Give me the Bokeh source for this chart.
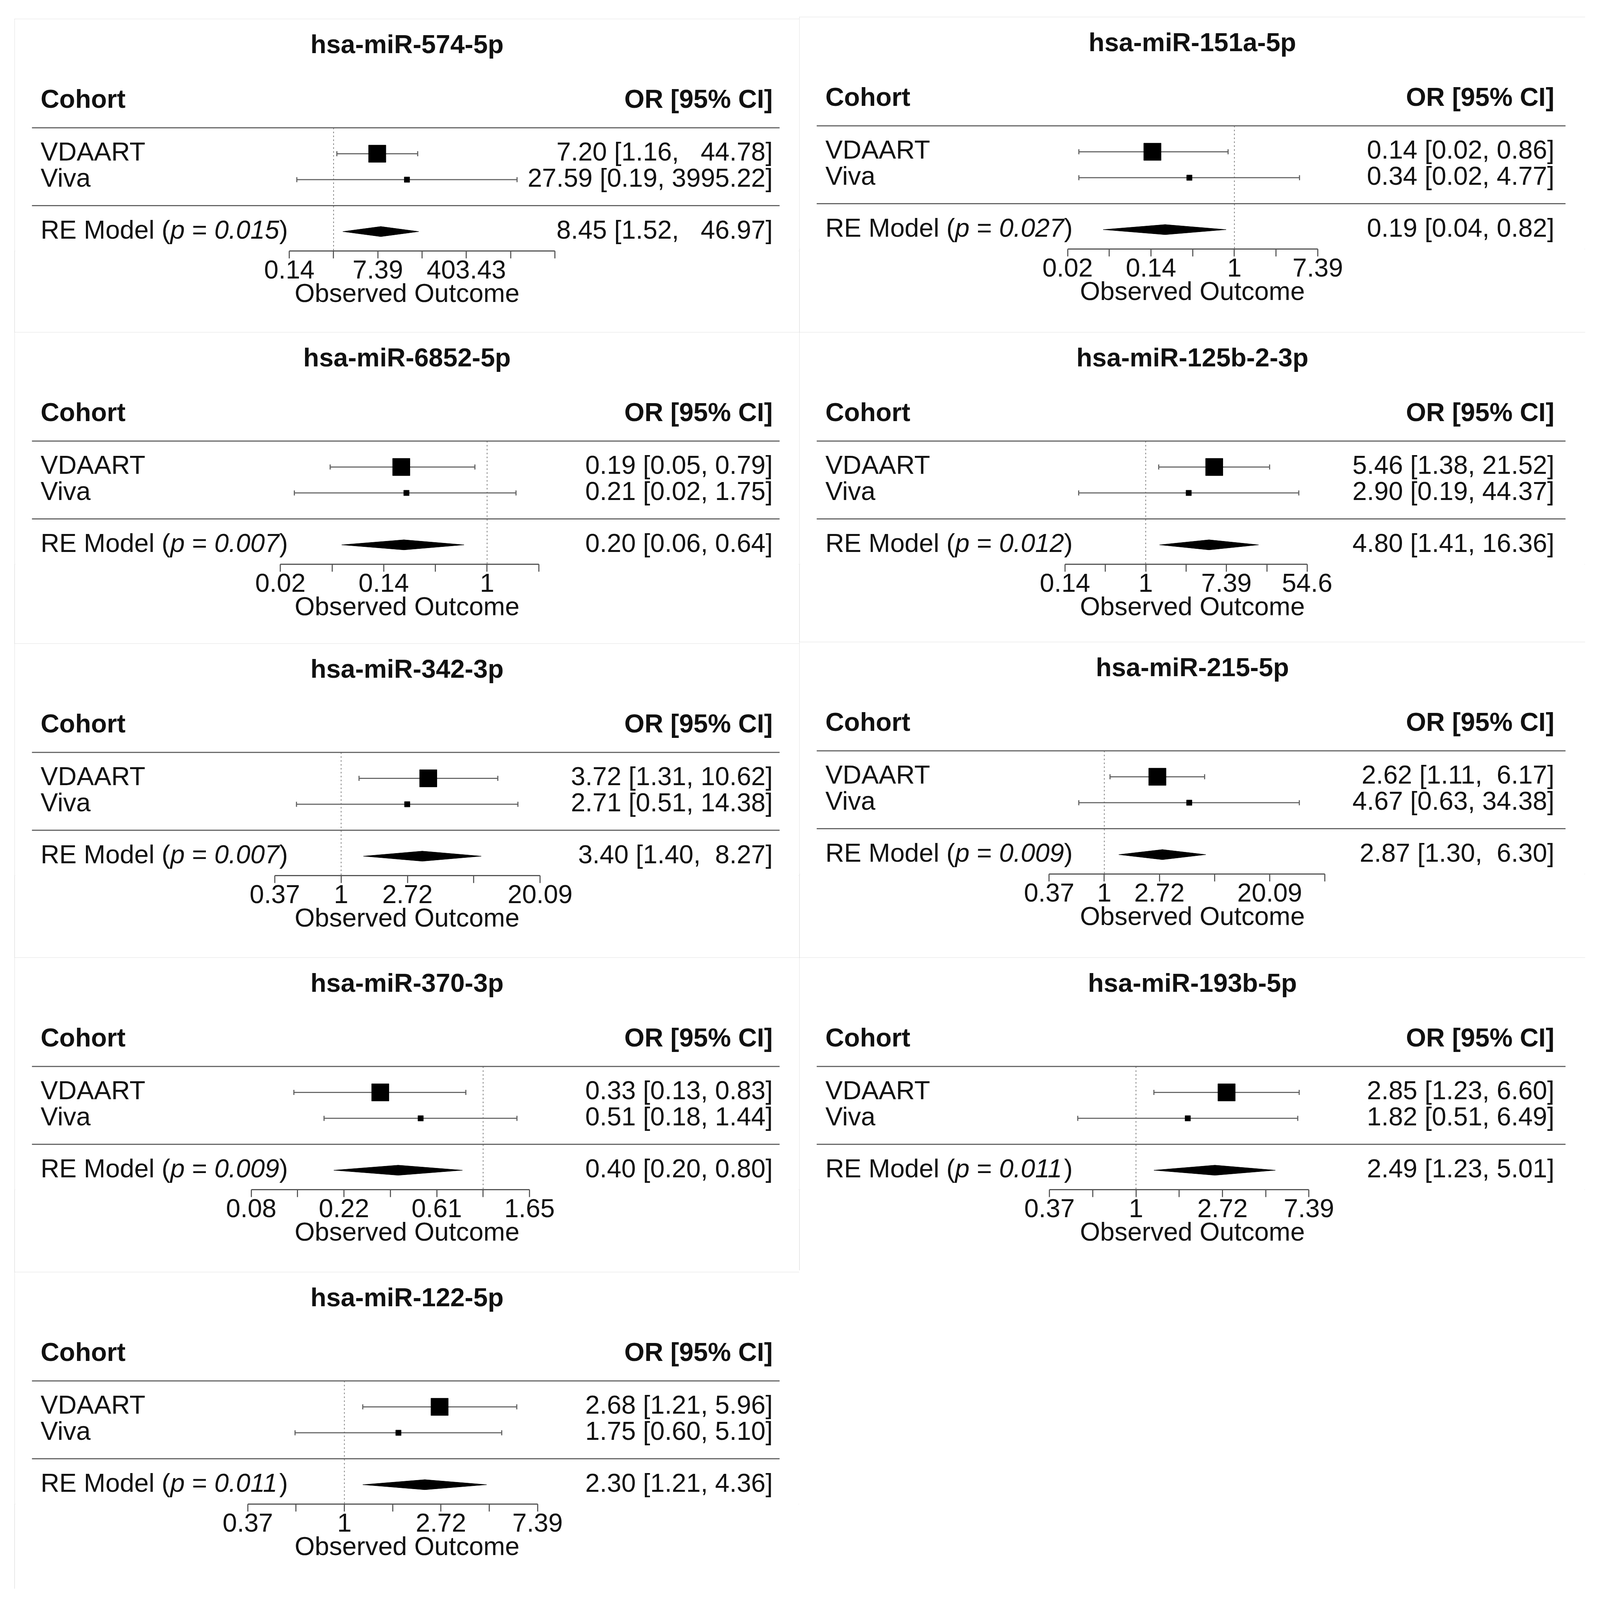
import re
import math
from bokeh.plotting import figure
from bokeh.models import Range1d, FixedTicker, ColumnDataSource, Spacer
from bokeh.layouts import column, row
from bokeh.core.properties import value, field
from bokeh.embed import file_html
from bokeh.resources import INLINE

# ---------------- data ----------------
TITLES = ["hsa-miR-574-5p", "hsa-miR-151a-5p", "hsa-miR-6852-5p", "hsa-miR-125b-2-3p",
          "hsa-miR-342-3p", "hsa-miR-215-5p", "hsa-miR-370-3p", "hsa-miR-193b-5p",
          "hsa-miR-122-5p"]
COHORTS = ["VDAART", "Viva"]
SUMMARY_LABEL = "RE Model"
HEADER_LEFT = "Cohort"
HEADER_RIGHT = "OR [95% CI]"
AXIS_TITLE = "Observed Outcome"
REF_OR = 1.0

VDAART_OR = [7.20, 0.14, 0.19, 5.46, 3.72, 2.62, 0.33, 2.85, 2.68]
VDAART_LO = [1.16, 0.024, 0.048, 1.38, 1.31, 1.11, 0.13, 1.23, 1.21]
VDAART_HI = [44.78, 0.86, 0.79, 21.52, 10.62, 6.17, 0.83, 6.60, 5.96]
VIVA_OR = [27.59, 0.34, 0.21, 2.90, 2.71, 4.67, 0.51, 1.82, 1.75]
VIVA_LO = [0.19, 0.024, 0.024, 0.19, 0.51, 0.63, 0.18, 0.51, 0.60]
VIVA_HI = [3995.22, 4.77, 1.75, 44.37, 14.38, 34.38, 1.44, 6.49, 5.10]
RE_OR = [8.45, 0.19, 0.20, 4.80, 3.40, 2.87, 0.40, 2.49, 2.30]
RE_LO = [1.52, 0.043, 0.06, 1.41, 1.40, 1.30, 0.20, 1.23, 1.21]
RE_HI = [46.97, 0.82, 0.64, 16.36, 8.27, 6.30, 0.80, 5.01, 4.36]
RE_P = ["0.015", "0.027", "0.007", "0.012", "0.007", "0.009", "0.009", "0.011", "0.011"]

# axis ticks on the log-OR scale and their labels (OR scale)
TICKS = [
    [-2, 0, 2, 4, 6, 8, 10],
    [-4, -3, -2, -1, 0, 1, 2],
    [-4, -3, -2, -1, 0, 1],
    [-2, -1, 0, 1, 2, 3, 4],
    [-1, 0, 1, 2, 3],
    [-1, 0, 1, 2, 3, 4],
    [-2.5, -2, -1.5, -1, -0.5, 0, 0.5],
    [-1, -0.5, 0, 0.5, 1, 1.5, 2],
    [-1, -0.5, 0, 0.5, 1, 1.5, 2],
]
TICK_LABELS = [
    ["0.14", "", "7.39", "", "403.43", "", ""],
    ["0.02", "", "0.14", "", "1", "", "7.39"],
    ["0.02", "", "0.14", "", "1", ""],
    ["0.14", "", "1", "", "7.39", "", "54.6"],
    ["0.37", "1", "2.72", "", "20.09"],
    ["0.37", "1", "2.72", "", "20.09", ""],
    ["0.08", "", "0.22", "", "0.61", "", "1.65"],
    ["0.37", "", "1", "", "2.72", "", "7.39"],
    ["0.37", "", "1", "", "2.72", "", "7.39"],
]

# ---------------- layout / style (reference pixels, scaled by S) ----------------
S = 4096.0 / 4440.0      # page px per reference px
MARGIN = 8

FONT = "Liberation Sans"
FONT_PX = 72 * S
TXT = "#111111"
SEP_COLOR = "#5a5a5a"
CI_COLOR = "#606060"
AX_COLOR = "#555555"
BORDER = "#c6c6c6"

AXIS_ORIGIN = [885, 1207, 1311, 961, 906, 846, 1300, 934, 915]   # ref px from panel left
PX_PER_UNIT = [61.4, 115.7, 143.4, 112.0, 184.0, 153.0, 257.4, 240.0, 268.0]

X_LEFT, X_MID, X_RIGHT = 49, 2226, 4408
LEFT_TOPS = [61, 930, 1794, 2666, 3538, 4417]
RIGHT_TOPS = [55, 930, 1790, 2666, 3534]

Y_UNIT = 72.0          # ref px per row
TITLE_FROM_TOP = 68
Y0_FROM_TITLE = 450
AXIS_FROM_TITLE = 576
TEXT_LEFT_PX = 72
TEXT_RIGHT_PX = {"left": 74, "right": 86}
LINE_LEFT_PX = 48
LINE_RIGHT_PX = 55
TEXT_SHIFT = 23.0 / Y_UNIT          # correction of the rendered text baseline
BASE_DY = 17.5 / Y_UNIT - TEXT_SHIFT
SQ_BIG, SQ_SMALL = 48, 15
CAP_PX = 7
DIAMOND_HALF_PX = 14

ADV = {'R': 722, 'E': 667, ' ': 278, 'M': 833, 'o': 556, 'd': 556, 'e': 556, 'l': 222,
       '(': 333, ')': 333, '=': 584, '.': 278, 'p': 556}
for _d in "0123456789":
    ADV[_d] = 556


def adv(s):
    return sum(ADV[c] for c in s) * FONT_PX / 1000.0


def keep_spaces(s):
    return re.sub(r" ( +)", lambda m: " " + "\u00a0" * len(m.group(1)), s)


def f2(v):
    return f"{v:.2f}"


FRAME_H = round((TITLE_FROM_TOP + AXIS_FROM_TITLE) * S)


def make_panel(i, W, H, side):
    org = AXIS_ORIGIN[i] * S
    ppu = PX_PER_UNIT[i] * S
    x0, x1 = -org / ppu, (W - org) / ppu
    y_top = (Y0_FROM_TITLE + TITLE_FROM_TOP) / Y_UNIT
    y_bot = y_top - FRAME_H / (Y_UNIT * S)
    p = figure(width=W, height=H, x_range=Range1d(x0, x1), y_range=Range1d(y_bot, y_top),
               output_backend="svg", toolbar_location=None, tools="",
               y_axis_location=None, min_border_left=0, min_border_right=0,
               min_border_top=0, min_border_bottom=H - FRAME_H,
               styles={"outline": f"3px solid {BORDER}", "outline-offset": "-3px"})
    p.grid.visible = False
    p.outline_line_color = None
    p.background_fill_color = "white"
    p.border_fill_color = "white"

    ax = p.xaxis[0]
    ax.ticker = FixedTicker(ticks=TICKS[i])
    ax.major_label_overrides = {float(t): lab for t, lab in zip(TICKS[i], TICK_LABELS[i])}
    ax.bounds = (min(TICKS[i]), max(TICKS[i]))
    ax.minor_tick_line_color = None
    ax.major_tick_in = 0
    ax.major_tick_out = round(21 * S)
    ax.axis_line_color = AX_COLOR
    ax.axis_line_width = 3 * S
    ax.major_tick_line_color = AX_COLOR
    ax.major_tick_line_width = 3 * S
    ax.major_label_text_font = FONT
    ax.major_label_text_font_size = f"{FONT_PX:.1f}px"
    ax.major_label_text_color = TXT
    ax.major_label_standoff = 5
    ax.axis_label = AXIS_TITLE
    ax.axis_label_text_font = FONT
    ax.axis_label_text_font_size = f"{FONT_PX:.1f}px"
    ax.axis_label_text_font_style = "normal"
    ax.axis_label_text_color = TXT
    ax.axis_label_standoff = -3

    ref = math.log(REF_OR)
    p.segment(x0=[ref], y0=[3], x1=[ref], y1=[y_bot], line_color="#7a7a7a",
              line_width=2 * S, line_dash="4 6")
    lx0, lx1 = x0 + LINE_LEFT_PX * S / ppu, x1 - LINE_RIGHT_PX * S / ppu
    p.segment(x0=[lx0, lx0], y0=[3, 0], x1=[lx1, lx1], y1=[3, 0],
              line_color=SEP_COLOR, line_width=3 * S)

    est = [VDAART_OR[i], VIVA_OR[i]]
    lo = [VDAART_LO[i], VIVA_LO[i]]
    hi = [VDAART_HI[i], VIVA_HI[i]]
    ys = [2, 1]
    le = [math.log(v) for v in est]
    ll = [math.log(v) for v in lo]
    lh = [math.log(v) for v in hi]
    p.segment(x0=ll, y0=ys, x1=lh, y1=ys, line_color=CI_COLOR, line_width=3 * S)
    cap = CAP_PX / Y_UNIT
    p.segment(x0=ll + lh, y0=[y - cap for y in ys] * 2, x1=ll + lh,
              y1=[y + cap for y in ys] * 2, line_color=CI_COLOR, line_width=3 * S)
    p.scatter(x=le, y=ys, size=[SQ_BIG * S, SQ_SMALL * S], marker="square",
              fill_color="black", line_color="black")

    h = DIAMOND_HALF_PX / Y_UNIT
    re_e, re_l, re_h = math.log(RE_OR[i]), math.log(RE_LO[i]), math.log(RE_HI[i])
    p.patch(x=[re_l, re_e, re_h, re_e], y=[-1, -1 + h, -1, -1 - h],
            fill_color="black", line_color="black", line_width=1)

    common = dict(text_font=value(FONT), text_font_size=value(f"{FONT_PX:.1f}px"),
                  text_color=TXT, text_baseline="alphabetic")
    tl, tr = TEXT_LEFT_PX * S, TEXT_RIGHT_PX[side] * S
    p.text(x=[(x0 + x1) / 2], y=[(Y0_FROM_TITLE - 25) / Y_UNIT + TEXT_SHIFT],
           text=[TITLES[i]], text_align="center", text_font_style="bold", **common)
    hy = (Y0_FROM_TITLE - 177) / Y_UNIT + TEXT_SHIFT
    p.text(x=[x0], y=[hy], text=[HEADER_LEFT], x_offset=tl,
           text_align="left", text_font_style="bold", **common)
    p.text(x=[x1], y=[hy], text=[HEADER_RIGHT], x_offset=-tr,
           text_align="right", text_font_style="bold", **common)
    p.text(x=[x0, x0], y=[y - BASE_DY for y in ys], text=COHORTS, x_offset=tl,
           text_align="left", **common)
    all_e = est + [RE_OR[i]]
    all_l = lo + [RE_LO[i]]
    all_h = hi + [RE_HI[i]]
    ws = max(len(f2(v)) for v in all_h)
    wl = max(len(f2(v)) for v in all_l)
    strs = [keep_spaces(f"{f2(e)} [{f2(l).rjust(wl)}, {f2(u).rjust(ws)}]")
            for e, l, u in zip(all_e, all_l, all_h)]
    p.text(x=[x1] * 3, y=[2 - BASE_DY, 1 - BASE_DY, -1 - BASE_DY], text=strs,
           x_offset=-tr, text_align="right", **common)
    pv = RE_P[i]
    o1 = adv(SUMMARY_LABEL + " (")
    o2 = o1 + adv("p") + adv(" ")
    o3 = o2 + adv("=") + adv(" ")
    o4 = o3 + adv(pv)
    src = ColumnDataSource(dict(
        x=[x0] * 5, y=[-1 - BASE_DY] * 5,
        text=[SUMMARY_LABEL + " (", "p", "=", pv, ")"],
        xoff=[tl + o for o in (0, o1, o2, o3, o4)],
        style=["normal", "italic", "normal", "italic", "normal"]))
    p.text(x="x", y="y", text="text", source=src, x_offset=field("xoff"),
           text_align="left", text_font_style=field("style"), **common)
    return p


def css(v):
    return round(v * S)


xl, xm, xr = css(X_LEFT), css(X_MID), css(X_RIGHT)
left_idx = [0, 2, 4, 6, 8]
right_idx = [1, 3, 5, 7]
lt = [css(v) for v in LEFT_TOPS]
rt = [css(v) for v in RIGHT_TOPS]
left_panels = [make_panel(i, xm - xl, lt[k + 1] - lt[k], "left")
               for k, i in enumerate(left_idx)]
right_panels = [make_panel(i, xr - xm, rt[k + 1] - rt[k], "right")
                for k, i in enumerate(right_idx)]

left = column([Spacer(height=lt[0] - MARGIN)] + left_panels, spacing=0)
right = column([Spacer(height=rt[0] - MARGIN)] + right_panels, spacing=0)
layout = row([Spacer(width=xl - MARGIN), left, right], spacing=0)

open("out.html", "w").write(file_html(layout, INLINE))
